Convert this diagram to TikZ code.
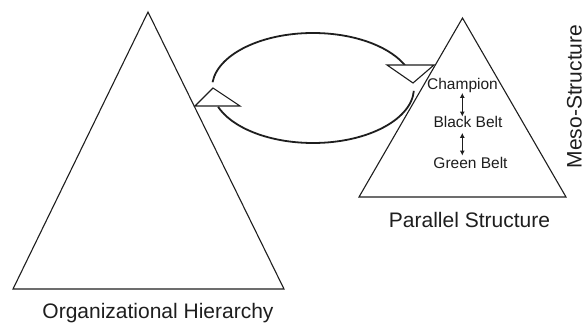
\documentclass[tikz,border=0pt]{standalone}
\usepackage{fontspec}
\setmainfont{Liberation Sans}
\usetikzlibrary{arrows.meta,calc}
\definecolor{ink}{HTML}{1E1E1E}
\tikzset{
  tri/.style={draw=ink, line width=1.1pt, line join=miter},
  loop/.style={draw=ink, line width=1.8pt},
  small/.style={inner sep=0pt, anchor=base, text=ink, font=\fontsize{15.5}{18}\selectfont},
  big/.style={inner sep=0pt, anchor=base, text=ink, font=\fontsize{21}{25}\selectfont},
  link/.style={draw=ink, line width=1.1pt, {Latex[length=5pt,width=5pt]}-{Latex[length=5pt,width=5pt]}}
}
\begin{document}
\begin{tikzpicture}[x=1pt,y=1pt]
\useasboundingbox (0,0) rectangle (584,-323);
% big triangle
\coordinate (bA) at (148,-12);
\coordinate (bL) at (13,-289);
\coordinate (bR) at (284,-289);
\draw[tri] (bA) -- (bL) -- (bR) -- cycle;
% small triangle
\coordinate (sA) at (462.5,-18);
\coordinate (sL) at (359,-197);
\coordinate (sR) at (566,-197);
\draw[tri] (sA) -- (sL) -- (sR) -- cycle;
% cycle arcs
\coordinate (ec) at (313,-88);
\draw[loop] ($(ec)+(174:101 and 55)$) arc[start angle=174, end angle=23, x radius=101, y radius=55];
\draw[loop] ($(ec)+(-3:101 and 55)$) arc[start angle=-3, end angle=-160, x radius=101, y radius=55];
% arrowhead triangles
\coordinate (lA) at (213,-88);
\coordinate (lL) at (195,-106);
\coordinate (lR) at (240,-106);
\draw[tri, fill=white] (lA) -- (lL) -- (lR) -- cycle;
\coordinate (rA) at (413,-83);
\coordinate (rL) at (387,-65);
\coordinate (rR) at (434,-65);
\draw[tri, fill=white] (rA) -- (rL) -- (rR) -- cycle;
% texts
\node[small] (champ) at (462.5,-90) {Champion};
\node[small] (black) at (468,-128) {Black Belt};
\node[small] (green) at (470.5,-169) {Green Belt};
\coordinate (ax) at (462.3,0);
\draw[link, shorten <=-0.5pt, shorten >=0pt] (champ.south -| ax) -- (black.north -| ax);
\draw[link, shorten <=4.5pt, shorten >=2pt] (black.south -| ax) -- (green.north -| ax);
\node[big] (par) at (469.5,-228) {Parallel Structure};
\node[big] (org) at (158,-318) {Organizational Hierarchy};
\node[big, rotate=90] (meso) at (581.5,-96.5) {Meso-Structure};
\end{tikzpicture}
\end{document}
